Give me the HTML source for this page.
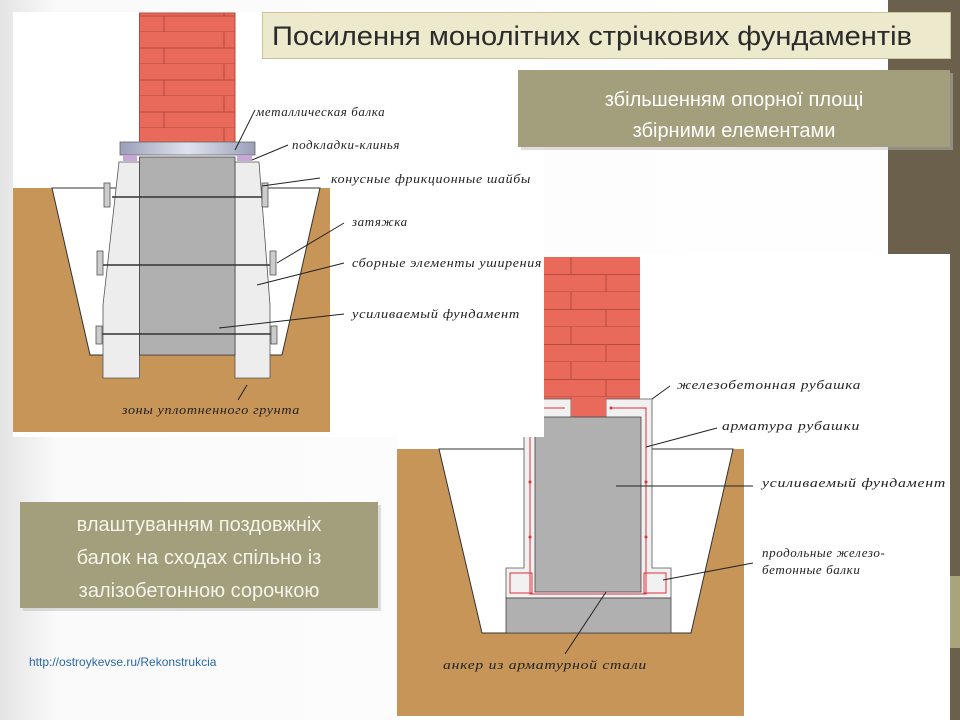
<!DOCTYPE html>
<html><head><meta charset="utf-8"><style>
html,body{margin:0;padding:0;width:960px;height:720px;overflow:hidden;background:#fff}
svg{display:block}
.lbl{font-family:"Liberation Serif","DejaVu Serif",serif;font-style:italic;font-size:13px;fill:#222;letter-spacing:0.6px}
.ld{stroke:#222;stroke-width:1;fill:none}
</style></head><body>
<svg width="960" height="720" viewBox="0 0 960 720" xmlns="http://www.w3.org/2000/svg">
<defs>
<linearGradient id="bg" x1="0" y1="0" x2="1" y2="0"><stop offset="0" stop-color="#e4e4e4"/><stop offset="0.06" stop-color="#fafafa"/><stop offset="1" stop-color="#fff"/></linearGradient>
<linearGradient id="beam" x1="0" y1="0" x2="1" y2="0"><stop offset="0" stop-color="#9aa0b8"/><stop offset="0.5" stop-color="#dfe2ee"/><stop offset="1" stop-color="#9aa0b8"/></linearGradient>
<pattern id="brk" x="0" y="0" width="96" height="32" patternUnits="userSpaceOnUse">
<rect width="96" height="32" fill="#e9695b"/>
<path d="M0 16H96M0 32H96M32 0V16M68 16V32" stroke="#b44c42" stroke-width="1"/>
</pattern>
<pattern id="brk2" x="544" y="257" width="96" height="35" patternUnits="userSpaceOnUse">
<rect width="96" height="35" fill="#e9695b"/>
<path d="M0 17.5H96M0 35H96M27 0V17.5M62 17.5V35" stroke="#b44c42" stroke-width="1"/>
</pattern>
</defs>
<rect width="960" height="720" fill="url(#bg)"/>
<rect x="888" y="0" width="72" height="720" fill="#6b604b"/>
<rect x="888" y="576" width="72" height="72" fill="#aaa47c"/>

<!-- right image -->
<rect x="398" y="254" width="552" height="466" fill="#fff"/>
<rect x="397" y="449" width="347" height="267" fill="#c69557"/>
<polygon points="439,449 482,633 691,633 733,449" fill="#fff" stroke="#333" stroke-width="1"/>
<rect x="544" y="257" width="96" height="142" fill="url(#brk2)"/>
<polygon points="524,399 571,399 571,417 606,417 606,399 652,399 652,568 671,568 671,598 506,598 506,568 524,568" fill="#f1f1f1" stroke="#555" stroke-width="0.8"/>
<rect x="571" y="399" width="35" height="19" fill="#e9695b"/>
<rect x="535" y="417" width="106" height="175" fill="#b0b0b0" stroke="#444" stroke-width="0.8"/>
<rect x="506" y="598" width="165" height="35" fill="#b0b0b0" stroke="#444" stroke-width="0.8"/>
<g stroke="#e0303a" stroke-width="1" fill="none">
<path d="M611,408 H646 V594 H530 V433"/><path d="M524,408 H565"/>
<rect x="510" y="573" width="22" height="20"/><rect x="644" y="573" width="22" height="20"/>
</g>
<g fill="#e0303a"><circle cx="646" cy="482" r="1.5"/><circle cx="646" cy="537" r="1.5"/><circle cx="530" cy="482" r="1.5"/><circle cx="530" cy="537" r="1.5"/><circle cx="611" cy="408" r="1.5"/></g>
<g class="ld">
<path d="M652,399 L670,386"/><path d="M646,447 L717,428"/><path d="M616,486 L753,486"/><path d="M663,580 L753,563"/><path d="M606,592 L565,654"/>
</g>
<text class="lbl" x="677" y="389" textLength="184" lengthAdjust="spacingAndGlyphs">железобетонная рубашка</text>
<text class="lbl" x="722" y="430" textLength="138" lengthAdjust="spacingAndGlyphs">арматура рубашки</text>
<text class="lbl" x="762" y="487" textLength="184" lengthAdjust="spacingAndGlyphs">усиливаемый фундамент</text>
<text class="lbl" x="762" y="557">продольные железо-</text>
<text class="lbl" x="762" y="574">бетонные балки</text>
<text class="lbl" x="443" y="669" textLength="204" lengthAdjust="spacingAndGlyphs">анкер из арматурной стали</text>

<!-- left image -->
<rect x="13" y="12" width="531" height="425" fill="#fff"/>
<rect x="13" y="188" width="317" height="244" fill="#c69557"/>
<polygon points="52,188 90,355 282,355 320,188" fill="#fff" stroke="#333" stroke-width="1"/>
<rect x="139.5" y="13" width="95.5" height="130" fill="url(#brk)" stroke="#b44c42"/>
<polygon points="119,162 139.5,162 139.5,378 103,378 103,305" fill="#ededed" stroke="#555" stroke-width="0.8"/>
<polygon points="235,162 259,162 270,305 270,378 235,378" fill="#ededed" stroke="#555" stroke-width="0.8"/>
<rect x="139.5" y="157" width="95.5" height="198" fill="#b0b0b0" stroke="#444" stroke-width="0.8"/>
<rect x="120" y="142" width="135" height="13" fill="url(#beam)" stroke="#666" stroke-width="0.8"/>
<rect x="123" y="155" width="14" height="6" fill="#c9a6d8"/>
<rect x="237" y="155" width="15" height="6" fill="#c9a6d8"/>
<g stroke="#333" stroke-width="1.5">
<line x1="112" y1="197" x2="264" y2="197"/><line x1="103" y1="265" x2="272" y2="265"/><line x1="98" y1="334" x2="274" y2="334"/>
</g>
<g fill="#ccc" stroke="#555" stroke-width="0.8">
<rect x="104" y="183" width="6" height="24"/><rect x="262" y="183" width="6" height="24"/>
<rect x="97" y="251" width="6" height="24"/><rect x="270" y="251" width="6" height="24"/>
<rect x="96" y="326" width="6" height="18"/><rect x="271" y="326" width="6" height="18"/>
</g>
<g class="ld">
<path d="M255,110 L235,150"/><path d="M288,145 L252,160"/><path d="M320,178 L262,186"/>
<path d="M344,223 L277,263"/><path d="M344,263 L257,285"/><path d="M344,314 L219,328"/><path d="M247,385 L238,400"/>
</g>
<text class="lbl" x="256" y="116" font-size="12">металлическая балка</text>
<text class="lbl" x="292" y="149">подкладки-клинья</text>
<text class="lbl" x="331" y="183" textLength="200" lengthAdjust="spacingAndGlyphs">конусные фрикционные шайбы</text>
<text class="lbl" x="352" y="226">затяжка</text>
<text class="lbl" x="352" y="267" textLength="190" lengthAdjust="spacingAndGlyphs">сборные элементы уширения</text>
<text class="lbl" x="352" y="318" textLength="168" lengthAdjust="spacingAndGlyphs">усиливаемый фундамент</text>
<text class="lbl" x="122" y="414" textLength="178" lengthAdjust="spacingAndGlyphs">зоны уплотненного грунта</text>

<!-- title boxes -->
<rect x="262.5" y="12.5" width="688" height="46" fill="#ede9cc" stroke="#c9c39a"/>
<text x="272" y="45" font-family="Liberation Sans, sans-serif" font-size="27" fill="#2b2b2b" textLength="640" lengthAdjust="spacingAndGlyphs">Посилення монолітних стрічкових фундаментів</text>
<rect x="521" y="73" width="432" height="77" fill="#bbb" opacity="0.5"/>
<rect x="518" y="70" width="432" height="77" fill="#a39e7b"/>
<text x="734" y="106" text-anchor="middle" font-family="Liberation Sans, sans-serif" font-size="20" fill="#fff">збільшенням опорної площі</text>
<text x="734" y="137" text-anchor="middle" font-family="Liberation Sans, sans-serif" font-size="20" fill="#fff">збірними елементами</text>
<rect x="23" y="505" width="358" height="106" fill="#bbb" opacity="0.5"/>
<rect x="20" y="502" width="358" height="106" fill="#a39e7b"/>
<text x="199" y="531" text-anchor="middle" font-family="Liberation Sans, sans-serif" font-size="20" fill="#f6f4ea">влаштуванням поздовжніх</text>
<text x="199" y="564" text-anchor="middle" font-family="Liberation Sans, sans-serif" font-size="20" fill="#f6f4ea">балок на сходах спільно із</text>
<text x="199" y="597" text-anchor="middle" font-family="Liberation Sans, sans-serif" font-size="20" fill="#f6f4ea">залізобетонною сорочкою</text>
<text x="29" y="666" font-family="Liberation Sans, sans-serif" font-size="12" fill="#2a66a8">http://ostroykevse.ru/Rekonstrukcia</text>
</svg>
</body></html>
